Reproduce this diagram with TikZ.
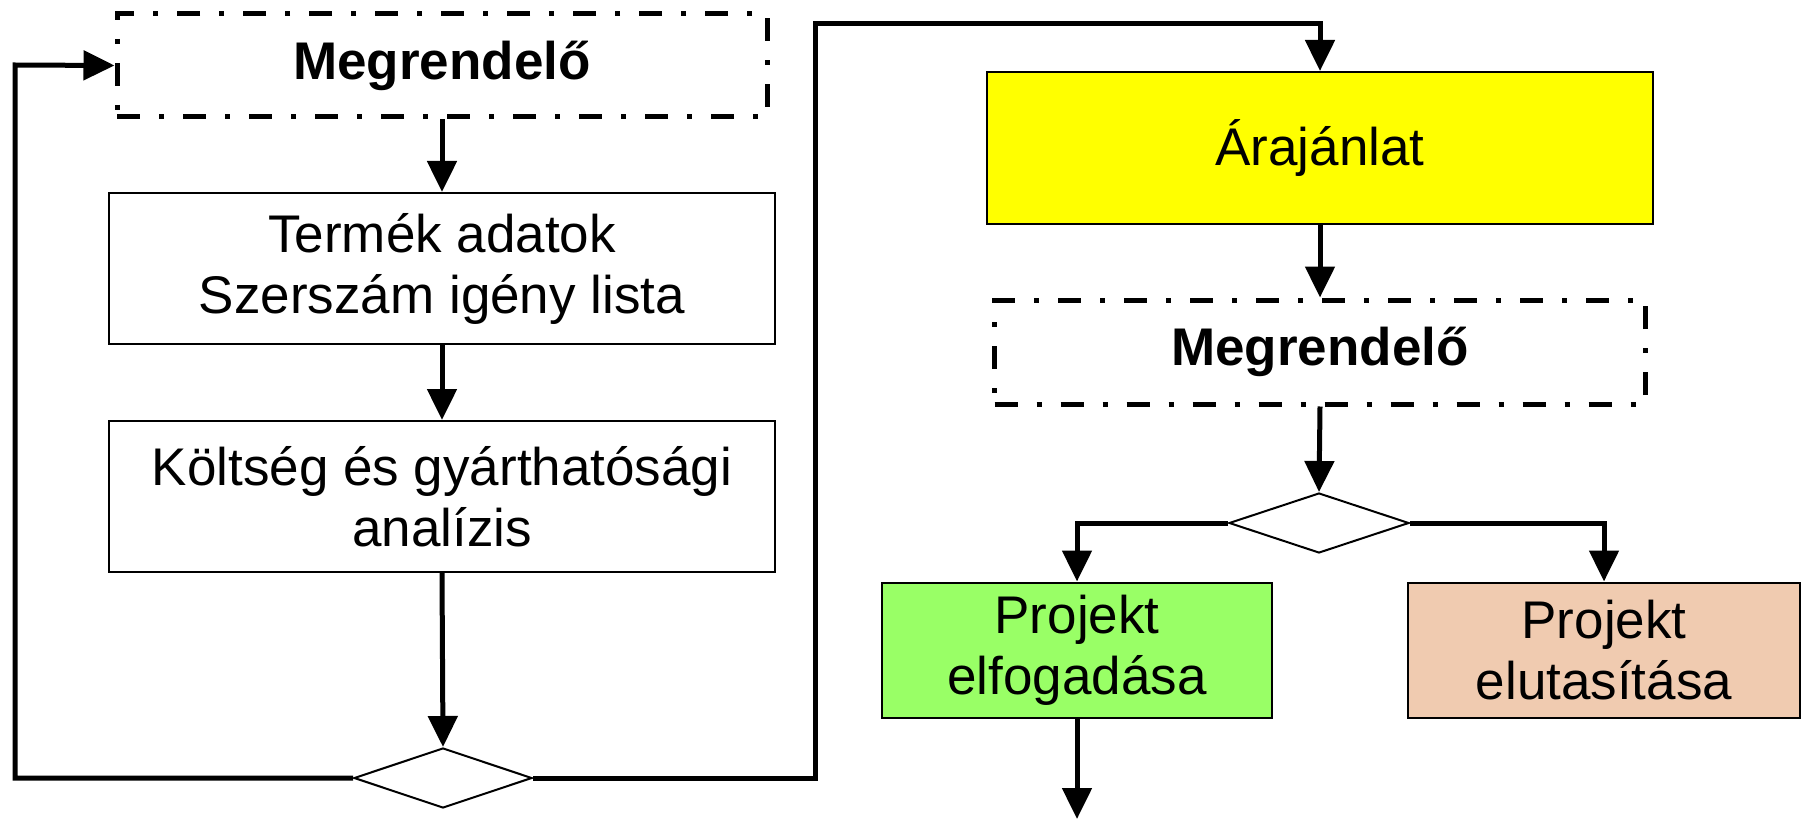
\documentclass[tikz,border=0pt]{standalone}
\usepackage{fontspec}
\setmainfont{Liberation Sans}
\usetikzlibrary{arrows.meta,shapes.geometric}
\definecolor{accept}{RGB}{153,255,102}
\definecolor{reject}{RGB}{240,203,176}
\definecolor{offer}{RGB}{255,255,0}

\begin{document}
\begin{tikzpicture}[x=1pt,y=-1pt,
  txt/.style={font=\fontsize{53}{61}\selectfont},
  box/.style={draw, line width=2pt, rectangle, inner sep=0pt, align=center, txt},
  client/.style={draw, line width=5pt, dash pattern=on 23pt off 19pt on 5pt off 19pt,
    rectangle, inner sep=0pt, minimum width=650pt, minimum height=103pt,
    font=\fontsize{53}{61}\selectfont\bfseries},
  decision/.style={draw, diamond, line width=2pt, inner sep=0pt,
    minimum width=178pt, minimum height=60pt},
  flow/.style={line width=5pt, -{Triangle[length=31pt,width=29pt]}},
]
\useasboundingbox (0,0) rectangle (1803,821);

% left column
\node[client] (m1) at (442,65.5) {Megrendelő};
\node[box, minimum width=666pt, minimum height=151pt] (t1) at (442,268.5)
  {Termék adatok\\Szerszám igény lista};
\node[box, minimum width=666pt, minimum height=151pt] (k1) at (442,496.5)
  {Költség és gyárthatósági\\analízis};
\node[decision] (d1) at (443,778) {};

% right column
\node[box, fill=offer, minimum width=666pt, minimum height=152pt] (a1) at (1320,148) {Árajánlat};
\node[client, minimum width=651pt, minimum height=104pt] (m2) at (1320,352) {Megrendelő};
\node[decision, minimum width=180pt] (d2) at (1319,523) {};
\node[box, fill=accept, minimum width=390pt, minimum height=135pt] (pe) at (1077,650)
  {Projekt\\elfogadása};
\node[box, fill=reject, minimum width=392pt, minimum height=135pt] (pu) at (1604,650)
  {Projekt\\elutasítása};

% routing points
\coordinate (lb) at (15,65);
\coordinate (rt) at (815,24);
\coordinate (out) at (1077,819);

% connectors
\draw[flow] (m1.south) -- (t1.north);
\draw[flow] (t1.south) -- (k1.north);
\draw[flow] (k1.south) -- (d1.north);
\draw[flow] (d1.west) -| (lb) -- (m1.west);
\draw[flow] (d1.east) -| (rt) -| (a1.north);
\draw[flow] (a1.south) -- (m2.north);
\draw[flow] (m2.south) -- (d2.north);
\draw[flow] (d2.west) -| (pe.north);
\draw[flow] (d2.east) -| (pu.north);
\draw[flow] (pe.south) -- (out);
\end{tikzpicture}
\end{document}
